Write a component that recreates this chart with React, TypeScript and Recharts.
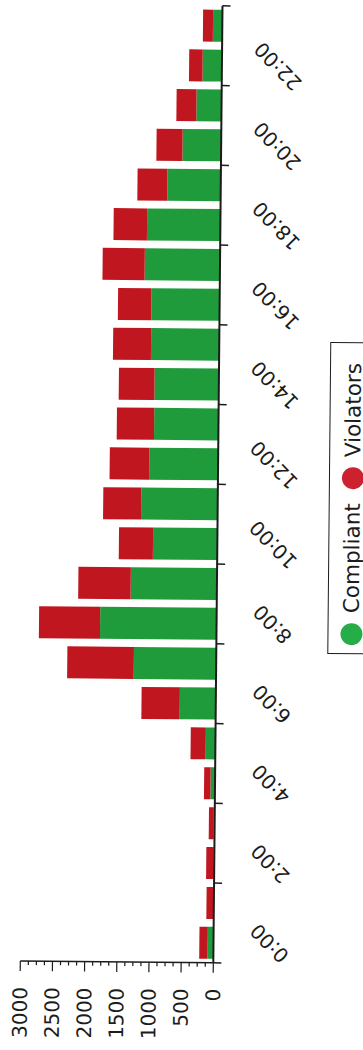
import { BarChart, Bar, XAxis, YAxis, Legend } from 'recharts';

const hours = [
  '0:00', '1:00', '2:00', '3:00', '4:00', '5:00', '6:00', '7:00', '8:00', '9:00', '10:00', '11:00',
  '12:00', '13:00', '14:00', '15:00', '16:00', '17:00', '18:00', '19:00', '20:00', '21:00', '22:00', '23:00',
];
const compliant = [90, 10, 15, 15, 70, 150, 560, 1280, 1810, 1340, 1000, 1190, 1070, 1000, 1000, 1060, 1060, 1170, 1140, 830, 600, 390, 300, 145];
const violators = [130, 105, 110, 75, 100, 235, 595, 1035, 950, 815, 530, 590, 615, 580, 555, 590, 520, 655, 520, 465, 405, 310, 210, 155];
const valueTicks = [
  0, 125, 250, 375, 500, 625, 750, 875, 1000, 1125, 1250, 1375, 1500,
  1625, 1750, 1875, 2000, 2125, 2250, 2375, 2500, 2625, 2750, 2875, 3000,
];
const majorStep = 500;

const GREEN = '#1f9b3b';
const RED = '#c0161f';
const INK = '#1c1c1c';
const FONT = '"DejaVu Sans", Verdana, sans-serif';

const W = 1050;
const H = 363;
const MARGIN = { top: 24, right: 5, bottom: 0, left: 0 };
const Y_AXIS_W = 88;
const BAND = (W - Y_AXIS_W - MARGIN.right) / hours.length;

const data = hours.map((h, i) => ({ hour: h, compliant: compliant[i], violators: violators[i] }));

function HourTick(props: any) {
  const { x, y, index, payload } = props;
  const even = index % 2 === 0;
  const ly = y + 56;
  return (
    <g>
      {even && <line x1={x - BAND / 2} x2={x - BAND / 2} y1={y} y2={y + 8} stroke={INK} strokeWidth={1.5} />}
      {index === hours.length - 1 && (
        <line x1={x + BAND / 2} x2={x + BAND / 2} y1={y} y2={y + 8} stroke={INK} strokeWidth={1.5} />
      )}
      {even && (
        <text
          x={x}
          y={ly}
          textAnchor="middle"
          dominantBaseline="central"
          transform={`rotate(-45 ${x} ${ly})`}
          fontSize={20}
          fontFamily={FONT}
          fill={INK}
        >
          {payload.value}
        </text>
      )}
    </g>
  );
}

function ValueTick(props: any) {
  const { x, y, payload } = props;
  const major = payload.value % majorStep === 0;
  return (
    <g>
      <line x1={x} x2={x - (major ? 10 : 4)} y1={y} y2={y} stroke={INK} strokeWidth={1.2} />
      {major && (
        <text x={x - 26} y={y} textAnchor="end" dominantBaseline="central" fontSize={20} fontFamily={FONT} fill={INK}>
          {payload.value}
        </text>
      )}
    </g>
  );
}

function LegendBox() {
  const item = (color: string, label: string, gapAfter: number) => (
    <div style={{ display: 'flex', alignItems: 'center', marginRight: gapAfter }}>
      <span style={{ width: 22, height: 22, borderRadius: 11, background: color, display: 'inline-block', marginRight: 10 }} />
      <span style={{ fontSize: 21.5, fontFamily: FONT, color: INK }}>{label}</span>
    </div>
  );
  return (
    <div
      style={{
        boxSizing: 'border-box',
        width: 312,
        height: 50,
        border: `1.5px solid ${INK}`,
        display: 'flex',
        alignItems: 'flex-start',
        paddingLeft: 8,
        paddingTop: 10,
      }}
    >
      {item('#27ad47', 'Compliant', 14)}
      {item('#cc2230', 'Violators', 0)}
    </div>
  );
}

export default function App() {
  return (
    <div style={{ position: 'absolute', left: 0, top: 0, width: 363, height: 1050, overflow: 'hidden', background: '#fff' }}>
      <div
        style={{
          position: 'absolute',
          left: (363 - W) / 2,
          top: (1050 - H) / 2,
          width: W,
          height: H,
          transform: 'rotate(-89.45deg)',
          transformOrigin: 'center center',
        }}
      >
        <BarChart width={W} height={H} data={data} margin={MARGIN} barCategoryGap="10%">
          <XAxis
            dataKey="hour"
            height={H - 217}
            interval={0}
            tickSize={0}
            tickMargin={0}
            tickLine={false}
            axisLine={{ stroke: INK, strokeWidth: 2 }}
            tick={<HourTick />}
          />
          <YAxis
            width={Y_AXIS_W}
            domain={[0, 3000]}
            ticks={valueTicks}
            interval={0}
            tickSize={0}
            tickMargin={0}
            tickLine={false}
            axisLine={{ stroke: INK, strokeWidth: 1.5 }}
            tick={<ValueTick />}
          />
          <Legend
            layout="horizontal"
            verticalAlign="middle"
            align="center"
            wrapperStyle={{ position: 'absolute', left: 398, top: 328, width: 312 }}
            content={<LegendBox />}
          />
          <Bar dataKey="compliant" stackId="a" fill={GREEN} isAnimationActive={false} />
          <Bar dataKey="violators" stackId="a" fill={RED} isAnimationActive={false} />
        </BarChart>
      </div>
    </div>
  );
}
